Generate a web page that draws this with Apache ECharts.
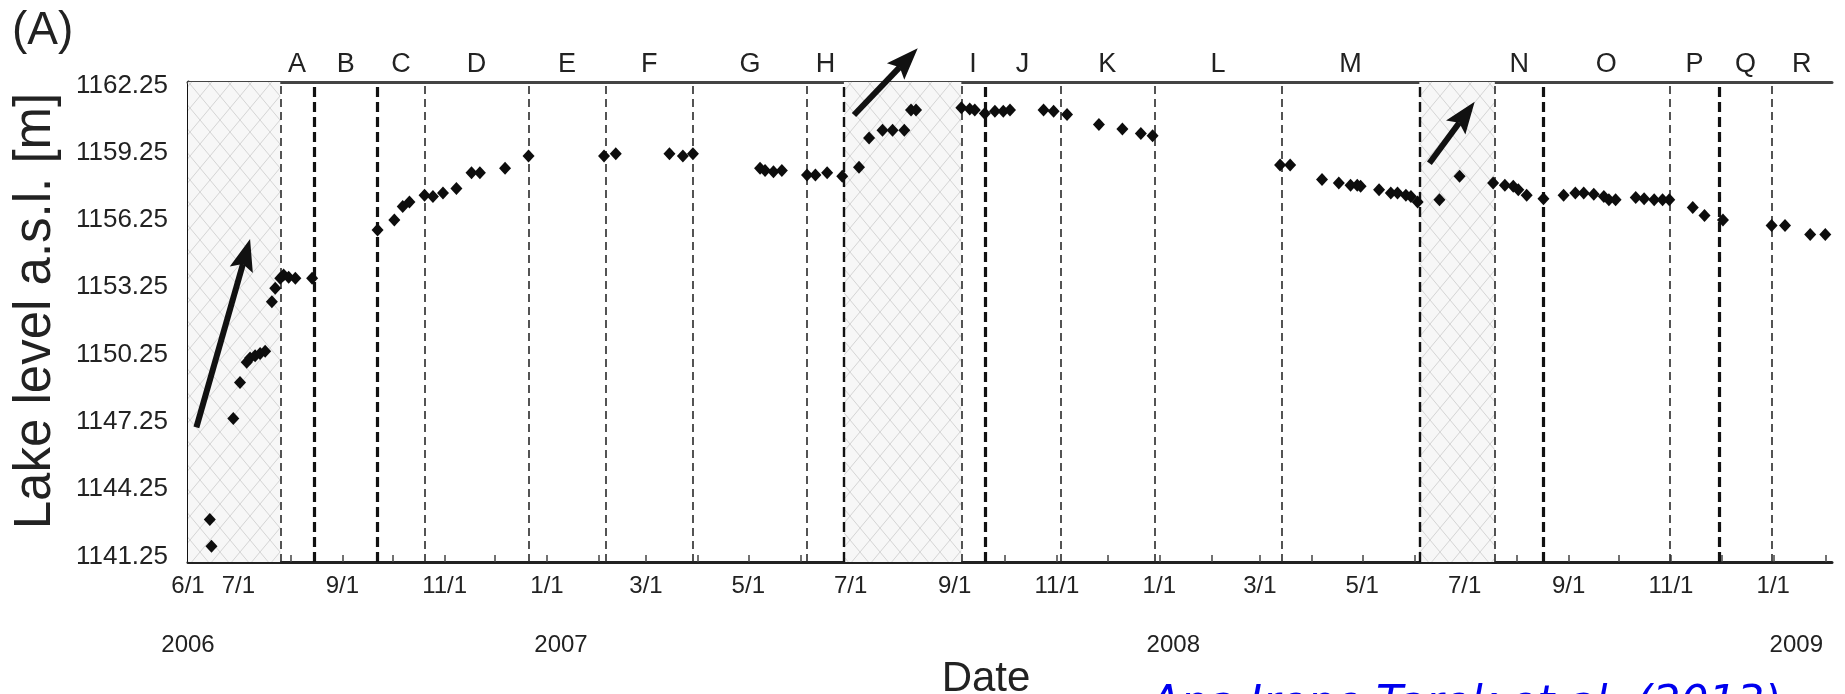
<!DOCTYPE html>
<html><head><meta charset="utf-8">
<script src="https://cdn.jsdelivr.net/npm/echarts@6/dist/echarts.min.js"></script>
<style>html,body{margin:0;padding:0;background:#fff}#c{width:1845px;height:694px}</style>
</head><body><div id="c"></div>
<script>
// ---------- DATA ----------
const pointDates = ['2006-06-14','2006-06-15','2006-06-28','2006-07-02','2006-07-06','2006-07-08','2006-07-11','2006-07-14','2006-07-17','2006-07-21','2006-07-23','2006-07-26','2006-07-28','2006-07-31','2006-08-04','2006-08-14',
 '2006-09-22','2006-10-02','2006-10-07','2006-10-11','2006-10-20','2006-10-25','2006-10-31','2006-11-08','2006-11-17','2006-11-22','2006-12-07','2006-12-21',
 '2007-02-04','2007-02-11','2007-03-15','2007-03-23','2007-03-29','2007-05-08','2007-05-11','2007-05-16','2007-05-21','2007-06-05','2007-06-10','2007-06-17','2007-06-26',
 '2007-07-06','2007-07-12','2007-07-20','2007-07-26','2007-08-02','2007-08-06','2007-08-09','2007-09-05','2007-09-10','2007-09-13','2007-09-19','2007-09-25','2007-09-30','2007-10-04',
 '2007-10-24','2007-10-30','2007-11-07','2007-11-26','2007-12-10','2007-12-21','2007-12-28',
 '2008-03-13','2008-03-19','2008-04-07','2008-04-17','2008-04-24','2008-04-28','2008-04-30','2008-05-11','2008-05-18','2008-05-22','2008-05-27','2008-05-30','2008-06-03',
 '2008-06-16','2008-06-28','2008-07-18','2008-07-25','2008-07-30','2008-08-02','2008-08-07','2008-08-17',
 '2008-08-29','2008-09-05','2008-09-10','2008-09-16','2008-09-22','2008-09-25','2008-09-29','2008-10-11','2008-10-16','2008-10-22','2008-10-27','2008-10-31',
 '2008-11-14','2008-11-21','2008-12-02','2008-12-31','2009-01-08','2009-01-23','2009-02-01'];
const pointLevels = [1142.9,1141.7,1147.4,1149.0,1149.9,1150.1,1150.2,1150.3,1150.4,1152.6,1153.2,1153.65,1153.8,1153.7,1153.65,1153.65,
 1155.8,1156.25,1156.85,1157.05,1157.35,1157.3,1157.45,1157.65,1158.35,1158.35,1158.55,1159.1,
 1159.1,1159.2,1159.2,1159.1,1159.2,1158.55,1158.45,1158.4,1158.45,1158.25,1158.25,1158.35,1158.2,
 1158.6,1159.9,1160.25,1160.25,1160.25,1161.15,1161.15,1161.25,1161.2,1161.15,1161.0,1161.1,1161.1,1161.15,
 1161.15,1161.1,1160.95,1160.5,1160.3,1160.1,1160.0,
 1158.7,1158.7,1158.05,1157.9,1157.8,1157.8,1157.75,1157.6,1157.45,1157.45,1157.35,1157.3,1157.05,
 1157.15,1158.2,1157.9,1157.8,1157.75,1157.6,1157.35,1157.2,
 1157.35,1157.45,1157.45,1157.4,1157.3,1157.15,1157.15,1157.25,1157.2,1157.15,1157.15,1157.15,
 1156.8,1156.45,1156.25,1156.0,1156.0,1155.6,1155.6];

const boundaryDates = ['2006-07-26','2006-08-15','2006-09-22','2006-10-20','2006-12-21','2007-02-05','2007-03-29','2007-06-05','2007-06-27','2007-09-05','2007-09-19','2007-11-03','2007-12-29','2008-03-14','2008-06-04','2008-07-19','2008-08-17','2008-10-31','2008-11-30','2008-12-31'];
const boundaryWeight = ['thin','thick','thick','thin','thin','thin','thin','thin','mid','thin','thick','thin','thin','thin','mid','thin','thick','thin','thick','thin'];

const segmentLetters = ['A','B','C','D','E','F','G','H','I','J','K','L','M','N','O','P','Q','R'];
const segmentStarts = ['2006-07-26','2006-08-15','2006-09-22','2006-10-20','2006-12-21','2007-02-05','2007-03-29','2007-06-05','2007-09-05','2007-09-19','2007-11-03','2007-12-29','2008-03-14','2008-07-19','2008-08-17','2008-10-31','2008-11-30','2008-12-31'];
const segmentEnds   = ['2006-08-15','2006-09-22','2006-10-20','2006-12-21','2007-02-05','2007-03-29','2007-06-05','2007-06-27','2007-09-19','2007-11-03','2007-12-29','2008-03-14','2008-06-04','2008-08-17','2008-10-31','2008-11-30','2008-12-31','2009-02-05'];

const hatchStarts = ['2006-06-01','2007-06-27','2008-06-04'];
const hatchEnds   = ['2006-07-26','2007-09-05','2008-07-19'];

const arrowTails = [['2006-06-06',1147.0],['2007-07-03',1160.93],['2008-06-10',1158.78]];
const arrowTips  = [['2006-07-08',1155.4],['2007-08-10',1163.9],['2008-07-07',1161.52]];

const yTicks = [1141.25,1144.25,1147.25,1150.25,1153.25,1156.25,1159.25,1162.25];
const xLabelDates = ['2006-06-01','2006-07-01','2006-09-01','2006-11-01','2007-01-01','2007-03-01','2007-05-01','2007-07-01','2007-09-01','2007-11-01','2008-01-01','2008-03-01','2008-05-01','2008-07-01','2008-09-01','2008-11-01','2009-01-01'];
const yearLabelDates = ['2006-06-01','2007-01-01','2008-01-01','2009-01-01'];
const yearLabels = ['2006','2007','2008','2009'];

const xMin = '2006-06-01', xMax = '2009-02-05';
const yMin = 1141.0, yMax = 1162.4;

// ---------- helpers ----------
function ts(s){ const p = s.split('-').map(Number); return new Date(p[0], p[1]-1, p[2]).getTime(); }
const FONT = '"Liberation Sans", Arial, Helvetica, sans-serif';

const monthTicks = [];
for (let y = 2006, m = 6; y < 2009 || (y === 2009 && m <= 1); ) {
  monthTicks.push(new Date(y, m, 1).getTime());
  m++; if (m > 11) { m = 0; y++; }
}

const pc = document.createElement('canvas');
pc.width = 20; pc.height = 24;
const cx = pc.getContext('2d');
cx.fillStyle = '#f7f7f7'; cx.fillRect(0,0,20,24);
cx.strokeStyle = '#d4d4d4'; cx.lineWidth = 1;
cx.beginPath(); cx.moveTo(0,0); cx.lineTo(20,24); cx.moveTo(20,0); cx.lineTo(0,24); cx.stroke();

const points = pointDates.map((d,i) => [ts(d), pointLevels[i]]);
const yearTs = yearLabelDates.map(ts);

const boundaryLines = boundaryDates.map((d,i) => {
  const w = boundaryWeight[i];
  return { xAxis: ts(d), lineStyle: {
    color: w === 'thin' ? '#2a2a2a' : '#111',
    width: w === 'thin' ? 1.6 : (w === 'mid' ? 2.4 : 3.2),
    type: w === 'thin' ? [8,5] : [10,5] } };
});

const chart = echarts.init(document.getElementById('c'), null, {renderer:'canvas'});
chart.setOption({
  animation: false,
  backgroundColor: '#fff',
  grid: { left: 188, right: 13, top: 82, bottom: 132, containLabel: false, outerBoundsMode: 'none', show: false },
  xAxis: [
    { type: 'value', min: ts(xMin), max: ts(xMax), position: 'bottom', scale: true,
      axisLine: { show: true, onZero: false, lineStyle: { color: '#222', width: 3 } },
      axisTick: { show: true, inside: true, length: 7, customValues: monthTicks, lineStyle: { color: '#444', width: 1.5 } },
      axisLabel: { show: true, customValues: xLabelDates.map(ts), margin: 12, color: '#222', fontSize: 24, fontFamily: FONT,
        formatter: v => { const d = new Date(v); return (d.getMonth()+1) + '/' + d.getDate(); } },
      splitLine: { show: false } },
    { type: 'value', min: ts(xMin), max: ts(xMax), position: 'bottom', scale: true,
      axisLine: { show: false }, axisTick: { show: false }, splitLine: { show: false },
      axisLabel: { show: true, customValues: yearTs, margin: 71, color: '#222', fontSize: 24, fontFamily: FONT,
        formatter: v => { const i = yearTs.indexOf(v); const t = yearLabels[i] || ''; return i === 0 ? '{a|' + t + '}' : (i === yearLabels.length - 1 ? '{c|' + t + '}' : '{b|' + t + '}'); },
        rich: { a: { fontSize: 24, fontFamily: FONT, color: '#222', padding: [0,0,0,0] },
                b: { fontSize: 24, fontFamily: FONT, color: '#222', padding: [0,0,0,28] },
                c: { fontSize: 24, fontFamily: FONT, color: '#222', padding: [0,0,0,46] } } } },
    { type: 'value', min: 0, max: 1, position: 'top',
      axisLine: { show: true, lineStyle: { color: '#444', width: 3 } }, axisTick: { show: false }, axisLabel: { show: false }, splitLine: { show: false } }
  ],
  yAxis: [
    { type: 'value', min: yMin, max: yMax, position: 'left', scale: true,
      axisLine: { show: true, onZero: false, lineStyle: { color: '#777', width: 1.5 } },
      axisTick: { show: true, inside: true, length: 4, customValues: yTicks, lineStyle: { color: '#999', width: 1 } },
      axisLabel: { show: true, customValues: yTicks, margin: 20, color: '#222', fontSize: 26, fontFamily: FONT, formatter: v => v.toFixed(2) },
      splitLine: { show: false } },
    { type: 'value', min: 0, max: 1, position: 'right',
      axisLine: { show: true, lineStyle: { color: '#111', width: 3 } }, axisTick: { show: false }, axisLabel: { show: false }, splitLine: { show: false } }
  ],
  series: [
    { type: 'scatter', name: 'hatch', data: points, symbolSize: 0, silent: true, z: 1,
      markArea: { silent: true, z: 1,
        itemStyle: { color: { image: pc, repeat: 'repeat' } },
        data: hatchStarts.map((s,i) => [{ xAxis: ts(s) }, { xAxis: ts(hatchEnds[i]) }]) } },
    { type: 'scatter', name: 'segments', data: points, symbolSize: 0, silent: true, z: 2,
      markArea: { silent: true,
        itemStyle: { color: 'rgba(0,0,0,0)' },
        label: { show: true, position: 'top', distance: 4, color: '#222', fontSize: 27, fontFamily: FONT, formatter: '{b}' },
        data: segmentLetters.map((l,i) => [{ name: l, xAxis: ts(segmentStarts[i]) }, { xAxis: ts(segmentEnds[i]) }]) },
      markLine: { silent: true, symbol: ['none','none'], label: { show: false }, data: boundaryLines } },
    { type: 'scatter', name: 'Lake level', data: points, symbol: 'diamond', symbolSize: [12, 13],
      itemStyle: { color: '#0d0d0d', opacity: 1 }, z: 5 },
    { type: 'custom', name: 'arrows', coordinateSystem: 'cartesian2d', clip: false, silent: true, z: 6,
      data: arrowTails.map((t,i) => [ts(t[0]), t[1], ts(arrowTips[i][0]), arrowTips[i][1]]),
      encode: { x: [0,2], y: [1,3] },
      renderItem: (params, api) => {
        const p0 = api.coord([api.value(0), api.value(1)]);
        const p1 = api.coord([api.value(2), api.value(3)]);
        const dx = p1[0]-p0[0], dy = p1[1]-p0[1], L = Math.hypot(dx,dy);
        const ux = dx/L, uy = dy/L, nx = -uy, ny = ux;
        const hl = 32, hw = 12, notch = 6;
        const bx = p1[0]-ux*hl, by = p1[1]-uy*hl;
        return { type: 'group', children: [
          { type: 'line', shape: { x1: p0[0], y1: p0[1], x2: bx+ux*notch, y2: by+uy*notch }, style: { stroke: '#111', lineWidth: 6 } },
          { type: 'polygon', shape: { points: [[p1[0],p1[1]],[bx+nx*hw,by+ny*hw],[bx+ux*notch,by+uy*notch],[bx-nx*hw,by-ny*hw]] }, style: { fill: '#111' } }
        ] };
      } }
  ],
  graphic: [
    { type: 'text', left: 12, top: 8, style: { text: '(A)', fontSize: 46, fontFamily: FONT, fill: '#222' } },
    { type: 'text', x: 36, y: 311, rotation: Math.PI/2, style: { text: 'Lake level a.s.l. [m]', fontSize: 51, fontFamily: FONT, fill: '#222', align: 'center', verticalAlign: 'middle' } },
    { type: 'text', x: 986, y: 679, style: { text: 'Date', fontSize: 42, fontFamily: FONT, fill: '#222', align: 'center', verticalAlign: 'middle' } },
    { type: 'text', x: 1150, y: 684, style: { text: 'Ana Irene Tarek et al. (2013)', fontSize: 44, fontStyle: 'italic', fontFamily: '"DejaVu Sans", sans-serif', fill: '#0000ee', align: 'left', verticalAlign: 'top' } }
  ]
});
</script></body></html>
